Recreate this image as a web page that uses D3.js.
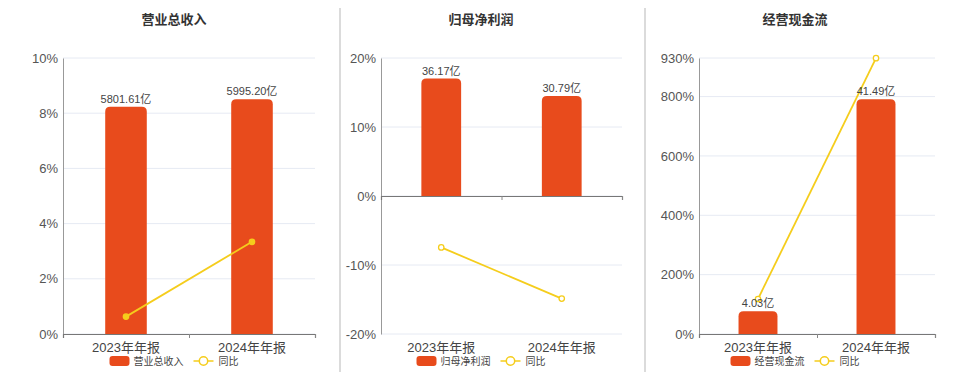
<!DOCTYPE html>
<html>
<head>
<meta charset="utf-8">
<script src="https://cdn.jsdelivr.net/npm/d3@7"></script>
<style>
  body { margin: 0; background: #fff; }
  svg { font-family: "Liberation Sans", Arial, "Noto Sans CJK SC", sans-serif; }
</style>
</head>
<body>
<div id="chart"></div>
<script>
// three small panels: bars = amount (hidden axis), line = yoy % (left axis)
var categories = ["2023年年报", "2024年年报"];

var revenue = [5801.61, 5995.20];
var revenueYoy = [0.63, 3.34];
var revenueTicks = [0, 2, 4, 6, 8, 10];

var profit = [36.17, 30.79];
var profitYoy = [-7.45, -14.87];
var profitTicks = [-20, -10, 0, 10, 20];

var cashflow = [4.03, 41.49];
var cashflowYoy = [118, 929.5];
var cashflowTicks = [0, 200, 400, 600, 800, 930];

var barColor = "#e84b1c";
var lineColor = "#f5cd1c";

var svg = d3.select("#chart").append("svg")
  .attr("width", 960)
  .attr("height", 372);

// panel separators
[340, 645].forEach(function(x) {
  svg.append("line")
    .attr("x1", x).attr("x2", x)
    .attr("y1", 8).attr("y2", 372)
    .attr("stroke", "#cfcfcf")
    .attr("stroke-width", 1.5);
});

var panels = [
  { title: "营业总收入", cx: 174, left: 63, right: 315,
    bars: revenue, yoy: revenueYoy, ticks: revenueTicks,
    yDomain: [0, 10], barDomain: [0, 7050], dotFill: lineColor },
  { title: "归母净利润", cx: 481, left: 381, right: 622,
    bars: profit, yoy: profitYoy, ticks: profitTicks,
    yDomain: [-20, 20], barDomain: [-42.5, 42.5], dotFill: "#fff" },
  { title: "经营现金流", cx: 795, left: 699, right: 935,
    bars: cashflow, yoy: cashflowYoy, ticks: cashflowTicks,
    yDomain: [0, 930], barDomain: [0, 48.8], dotFill: "#fff" }
];

var plotTop = 58, plotBottom = 334;

panels.forEach(drawPanel);

function roundTopBar(x, y0, w, y1, r) {
  // bar from baseline y0 up to y1 with rounded top corners
  var h = y0 - y1;
  r = Math.min(r, h / 2, w / 2);
  return "M" + x + "," + y0 +
    "V" + (y1 + r) +
    "Q" + x + "," + y1 + " " + (x + r) + "," + y1 +
    "H" + (x + w - r) +
    "Q" + (x + w) + "," + y1 + " " + (x + w) + "," + (y1 + r) +
    "V" + y0 + "Z";
}

function drawPanel(p) {
  var g = svg.append("g");

  var x = d3.scaleBand()
    .domain(categories)
    .range([p.left, p.right])
    .paddingInner(0.67)
    .paddingOuter(0.335);

  var y = d3.scaleLinear().domain(p.yDomain).range([plotBottom, plotTop]);
  var yBar = d3.scaleLinear().domain(p.barDomain).range([plotBottom, plotTop]);

  // title
  g.append("text")
    .attr("x", p.cx).attr("y", 24)
    .attr("text-anchor", "middle")
    .attr("font-size", 13)
    .attr("font-weight", "bold")
    .attr("fill", "#333")
    .text(p.title);

  // grid lines
  g.selectAll(".grid")
    .data(p.ticks)
    .enter().append("line")
    .attr("x1", p.left).attr("x2", p.right)
    .attr("y1", d => y(d)).attr("y2", d => y(d))
    .attr("stroke", "#e6eaf3")
    .attr("stroke-width", 1);

  // left axis (yoy %)
  var yAxis = g.append("g")
    .attr("transform", `translate(${p.left},0)`)
    .call(d3.axisLeft(y).tickValues(p.ticks).tickSize(0).tickPadding(5).tickFormat(d => d + "%"));
  yAxis.select(".domain").attr("stroke", "#999");
  yAxis.selectAll("text")
    .attr("font-size", 13)
    .attr("fill", "#555")
    .attr("font-family", "Liberation Sans, Arial, sans-serif");

  // bars
  var zeroY = yBar(0);
  g.selectAll(".bar")
    .data(p.bars)
    .enter().append("path")
    .attr("d", (d, i) => roundTopBar(x(categories[i]), zeroY, x.bandwidth(), yBar(d), 5))
    .attr("fill", barColor);

  // bottom axis at zero
  var xAxis = g.append("g")
    .attr("transform", `translate(0,${y(0)})`)
    .call(d3.axisBottom(d3.scaleLinear().domain([0, 2]).range([p.left, p.right]))
      .tickValues([1, 2]).tickSize(4).tickFormat(""));
  xAxis.select(".domain").attr("stroke", "#777").attr("stroke-width", 1.2);
  xAxis.selectAll(".tick line").attr("stroke", "#888");

  // category labels
  g.selectAll(".cat")
    .data(categories)
    .enter().append("text")
    .attr("x", d => x(d) + x.bandwidth() / 2)
    .attr("y", 352)
    .attr("text-anchor", "middle")
    .attr("font-size", 13)
    .attr("fill", "#444")
    .text(d => d);

  // yoy line
  var line = d3.line()
    .x((d, i) => x(categories[i]) + x.bandwidth() / 2)
    .y(d => y(d));
  g.append("path")
    .datum(p.yoy)
    .attr("d", line)
    .attr("fill", "none")
    .attr("stroke", lineColor)
    .attr("stroke-width", 1.8);
  g.selectAll(".dot")
    .data(p.yoy)
    .enter().append("circle")
    .attr("cx", (d, i) => x(categories[i]) + x.bandwidth() / 2)
    .attr("cy", d => y(d))
    .attr("r", 2.7)
    .attr("fill", p.dotFill)
    .attr("stroke", lineColor)
    .attr("stroke-width", 1.3);

  // bar value labels
  g.selectAll(".val")
    .data(p.bars)
    .enter().append("text")
    .attr("x", (d, i) => x(categories[i]) + x.bandwidth() / 2)
    .attr("y", d => yBar(d) - 4)
    .attr("text-anchor", "middle")
    .attr("font-size", 11)
    .attr("fill", "#444")
    .text(d => d.toFixed(2) + "亿");

  // legend
  var legend = g.append("g");
  legend.append("rect")
    .attr("x", 0).attr("y", -5)
    .attr("width", 20).attr("height", 10)
    .attr("rx", 3)
    .attr("fill", barColor);
  var t1 = legend.append("text")
    .attr("x", 24).attr("y", 4)
    .attr("font-size", 10)
    .attr("fill", "#444")
    .text(p.title);
  var lx = 24 + t1.node().getComputedTextLength() + 10;
  legend.append("line")
    .attr("x1", lx).attr("x2", lx + 20)
    .attr("y1", 0).attr("y2", 0)
    .attr("stroke", lineColor)
    .attr("stroke-width", 1.5);
  legend.append("circle")
    .attr("cx", lx + 10).attr("cy", 0)
    .attr("r", 4.2)
    .attr("fill", "#fff")
    .attr("stroke", lineColor)
    .attr("stroke-width", 1.5);
  var t2 = legend.append("text")
    .attr("x", lx + 25).attr("y", 4)
    .attr("font-size", 10)
    .attr("fill", "#444")
    .text("同比");
  var totalW = lx + 25 + t2.node().getComputedTextLength();
  legend.attr("transform", `translate(${p.cx - totalW / 2},361)`);
}
</script>
</body>
</html>
